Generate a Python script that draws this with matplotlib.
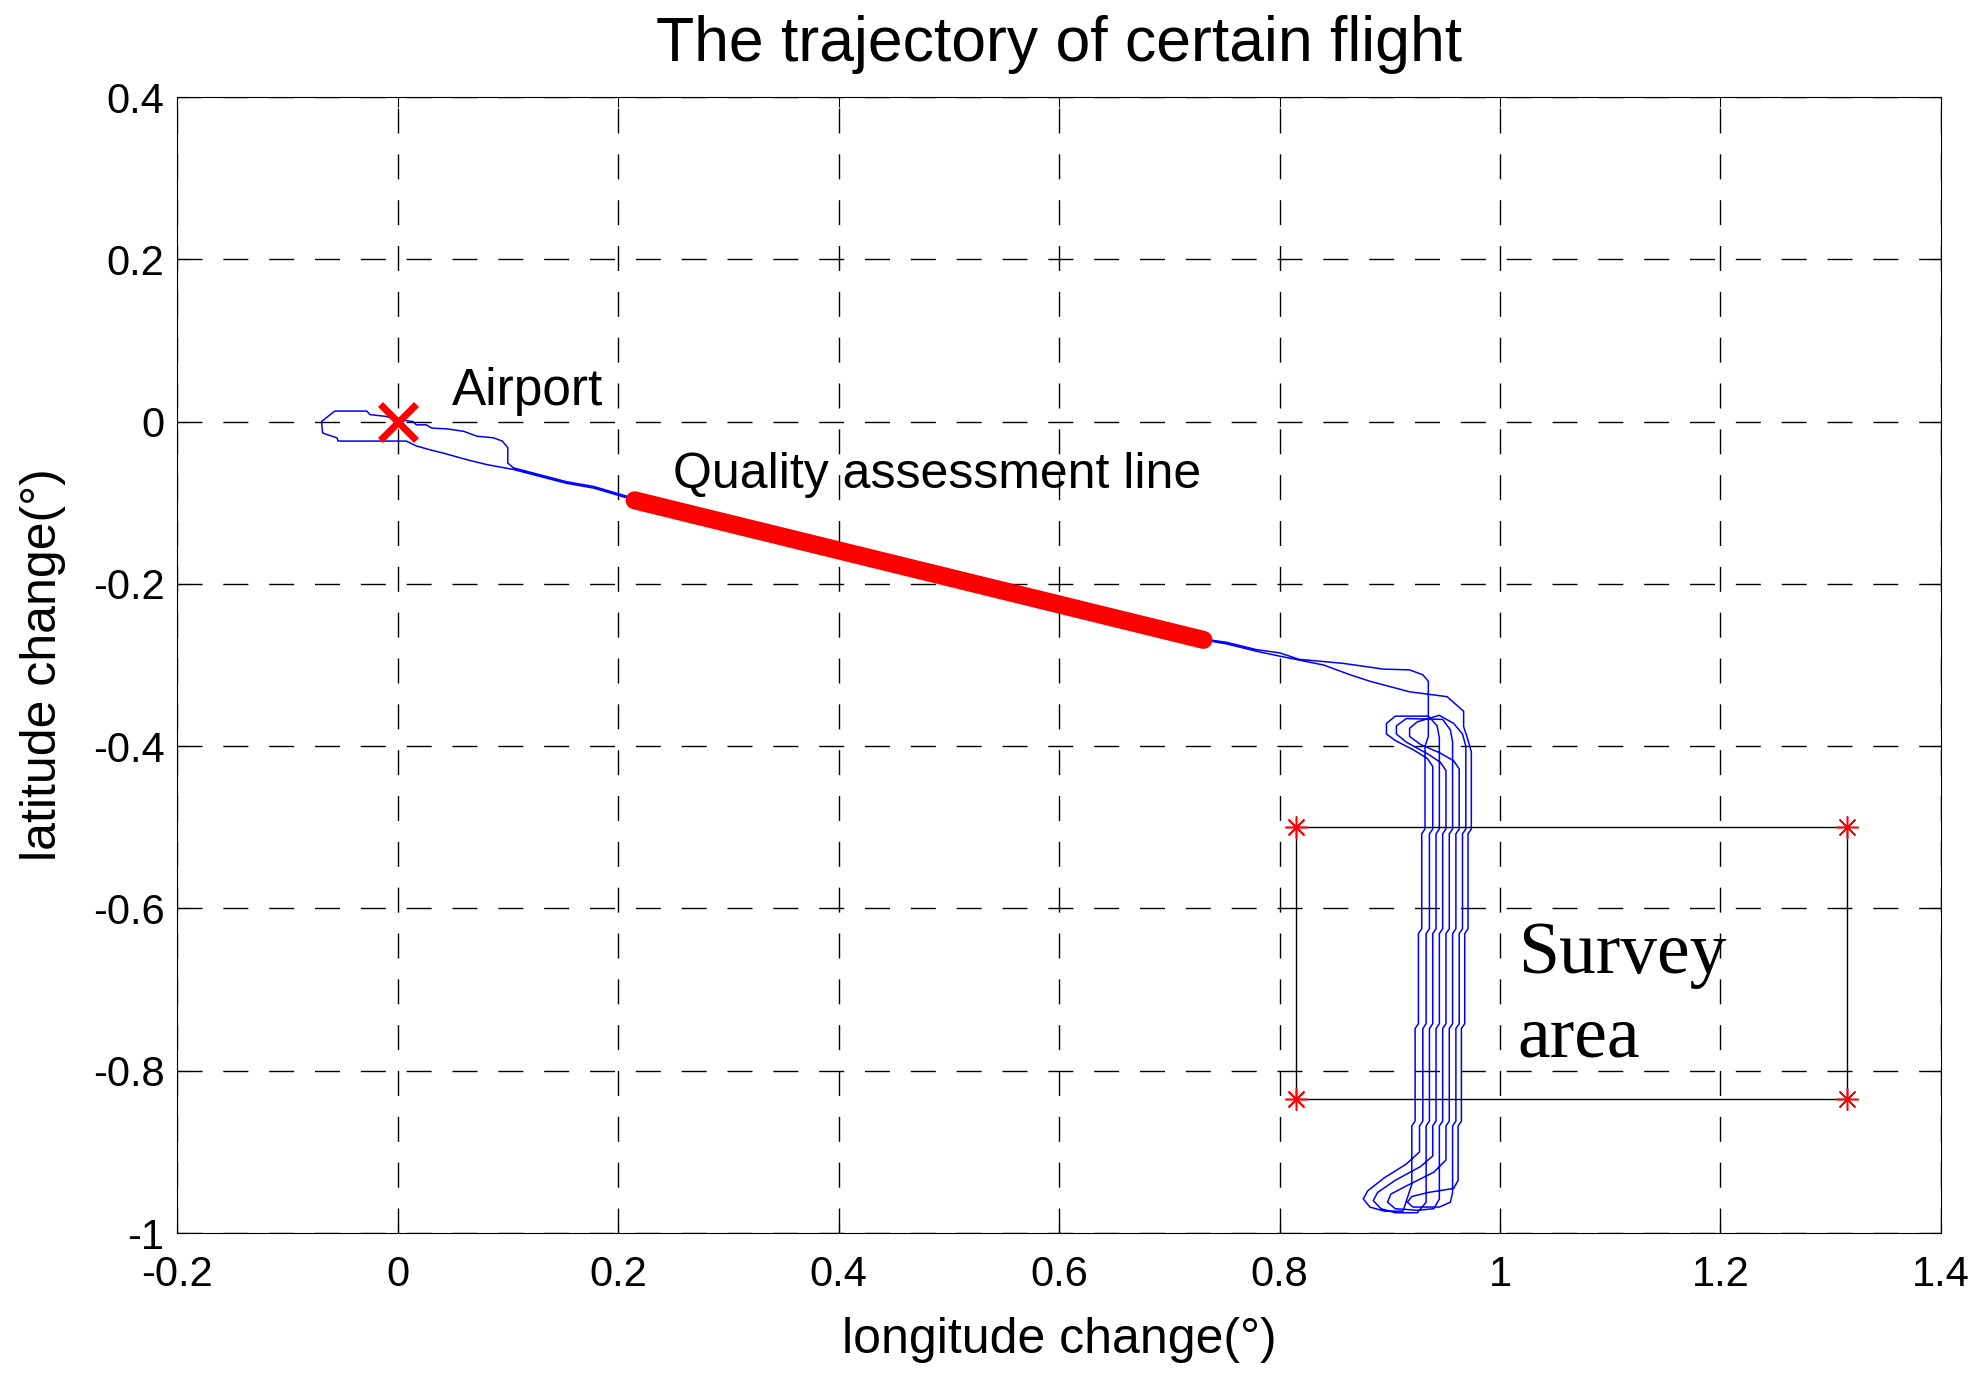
import matplotlib
matplotlib.use("Agg")
import matplotlib.pyplot as plt

plt.rcParams["font.family"] = ["Liberation Sans", "DejaVu Sans"]

# ground track around the airport (outbound: upper edge west, then lower edge east)
airport_out = [(0.0, 0.0025), (-0.011, 0.0065), (-0.025, 0.0086), (-0.028, 0.013),
               (-0.057, 0.013), (-0.069, 0.0), (-0.068, -0.014), (-0.064, -0.016),
               (-0.055, -0.020), (-0.054, -0.024), (0.008, -0.024), (0.017, -0.030),
               (0.030, -0.035), (0.042, -0.039), (0.055, -0.044), (0.066, -0.048),
               (0.081, -0.053), (0.093, -0.056), (0.105, -0.059)]
route_out = [(0.153, -0.076), (0.178, -0.082), (0.193, -0.088), (0.213, -0.096),
             (0.731, -0.269), (0.752, -0.274), (0.779, -0.283), (0.800, -0.289)]
entry = [(0.840, -0.300), (0.864, -0.312), (0.882, -0.320), (0.918, -0.333),
         (0.952, -0.339), (0.967, -0.357), (0.967, -0.376), (0.970, -0.388)]

# survey legs: longitude of each leg between the small jogs
jog_lat = [-0.505, -0.628, -0.745, -0.865]
leg_lon = {
    1: [0.932, 0.929, 0.926, 0.923, 0.920],
    2: [0.939, 0.936, 0.933, 0.930, 0.927],
    3: [0.945, 0.942, 0.939, 0.936, 0.933],
    4: [0.951, 0.948, 0.945, 0.942, 0.939],
    5: [0.957, 0.954, 0.951, 0.948, 0.945],
    6: [0.963, 0.960, 0.957, 0.954, 0.951],
    7: [0.969, 0.966, 0.963, 0.960, 0.957],
    8: [0.974, 0.971, 0.968, 0.965, 0.962],
}
leg_top = {1: -0.40, 2: -0.425, 3: -0.39, 4: -0.43, 5: -0.395, 6: -0.428, 7: -0.40, 8: -0.407}
leg_bot = {1: -0.94, 2: -0.90, 3: -0.962, 4: -0.905, 5: -0.958, 6: -0.91, 7: -0.95, 8: -0.935}

bottom_turns = {
    (8, 7): [(0.958, -0.945), (0.935, -0.950), (0.920, -0.955), (0.916, -0.962),
             (0.921, -0.968), (0.945, -0.968), (0.955, -0.962)],
    (6, 5): [(0.940, -0.925), (0.915, -0.942), (0.901, -0.952), (0.898, -0.962),
             (0.905, -0.970), (0.925, -0.972), (0.940, -0.970)],
    (4, 3): [(0.928, -0.918), (0.905, -0.935), (0.889, -0.950), (0.885, -0.960),
             (0.892, -0.970), (0.905, -0.975), (0.925, -0.975)],
    (2, 1): [(0.915, -0.915), (0.895, -0.932), (0.880, -0.948), (0.876, -0.958),
             (0.882, -0.968), (0.895, -0.973), (0.912, -0.973)],
}
top_turns = {
    (7, 6): [(0.966, -0.385), (0.958, -0.372), (0.945, -0.362), (0.925, -0.370),
             (0.918, -0.378), (0.918, -0.388), (0.928, -0.398), (0.945, -0.408),
             (0.958, -0.418)],
    (5, 4): [(0.955, -0.380), (0.948, -0.367), (0.915, -0.366), (0.906, -0.375),
             (0.906, -0.385), (0.915, -0.395), (0.935, -0.410), (0.946, -0.420)],
    (3, 2): [(0.943, -0.375), (0.935, -0.363), (0.905, -0.363), (0.897, -0.372),
             (0.897, -0.385), (0.905, -0.393), (0.922, -0.405), (0.934, -0.415)],
}
exit_line = [(0.935, -0.388), (0.935, -0.320), (0.930, -0.312), (0.918, -0.306),
             (0.894, -0.305), (0.858, -0.298), (0.818, -0.293), (0.800, -0.285)]
route_back = [(0.779, -0.281), (0.752, -0.272), (0.731, -0.268), (0.213, -0.094),
              (0.193, -0.086), (0.178, -0.080), (0.153, -0.074), (0.105, -0.057)]
airport_in = [(0.100, -0.051), (0.100, -0.032), (0.095, -0.024), (0.087, -0.020),
              (0.072, -0.018), (0.060, -0.012), (0.045, -0.009), (0.031, -0.008),
              (0.026, -0.004), (0.017, -0.004), (0.014, 0.0), (0.0, 0.0025)]

# quality assessment line (red) and survey rectangle
qa_lon = [0.215, 0.731]
qa_lat = [-0.097, -0.269]
rect_lon = [0.815, 1.315, 1.315, 0.815, 0.815]
rect_lat = [-0.500, -0.500, -0.835, -0.835, -0.500]


def leg(n, down):
    xs = leg_lon[n]
    pts = [(xs[0], leg_top[n])]
    for i, yj in enumerate(jog_lat):
        pts.append((xs[i], yj + 0.003))
        pts.append((xs[i + 1], yj - 0.003))
    pts.append((xs[-1], leg_bot[n]))
    return pts if down else pts[::-1]


path = airport_out + route_out + entry
path += leg(8, True) + bottom_turns[(8, 7)] + leg(7, False) + top_turns[(7, 6)]
path += leg(6, True) + bottom_turns[(6, 5)] + leg(5, False) + top_turns[(5, 4)]
path += leg(4, True) + bottom_turns[(4, 3)] + leg(3, False) + top_turns[(3, 2)]
path += leg(2, True) + bottom_turns[(2, 1)] + leg(1, False)
path += exit_line + route_back + airport_in
lon = [p[0] for p in path]
lat = [p[1] for p in path]

fig = plt.figure(figsize=(19.83, 13.8), dpi=100)
ax = fig.add_axes([0.0893, 0.1065, 0.8895, 0.8232])

ax.plot(lon, lat, color="#0000ff", lw=1.1, zorder=3)
ax.plot(qa_lon, qa_lat, color="red", lw=13, solid_capstyle="round", zorder=4)
ax.plot(rect_lon, rect_lat, color="k", lw=1.0, zorder=3)
ax.plot(rect_lon[:4], rect_lat[:4], linestyle="none", marker=(8, 2, 0),
        markersize=16, markeredgewidth=1.1, color="red", zorder=5)
ax.plot([0], [0], linestyle="none", marker="x", markersize=26,
        markeredgewidth=5, color="red", zorder=5)

ax.text(0.049, 0.021, "Airport", fontsize=37)
ax.text(0.250, -0.082, "Quality assessment line", fontsize=36)
ax.text(1.016, -0.680, "Survey", fontsize=53, family="Liberation Serif")
ax.text(1.016, -0.782, "area", fontsize=53, family="Liberation Serif")

ax.set_xlim(-0.2, 1.4)
ax.set_ylim(-1.0, 0.4)
xt = [-0.2, 0, 0.2, 0.4, 0.6, 0.8, 1.0, 1.2, 1.4]
yt = [-1.0, -0.8, -0.6, -0.4, -0.2, 0, 0.2, 0.4]
ax.set_xticks(xt)
ax.set_xticklabels(["-0.2", "0", "0.2", "0.4", "0.6", "0.8", "1", "1.2", "1.4"])
ax.set_yticks(yt)
ax.set_yticklabels(["-1", "-0.8", "-0.6", "-0.4", "-0.2", "0", "0.2", "0.4"])
ax.tick_params(direction="in", length=7, width=0.8, labelsize=30,
               top=True, right=True)
ax.tick_params(axis="x", pad=16)
ax.tick_params(axis="y", pad=9)
ax.grid(True, color="k", linestyle=(0, (18, 15)), linewidth=1.0)
ax.set_axisbelow(True)
for s in ax.spines.values():
    s.set_linewidth(0.8)

ax.set_title("The trajectory of certain flight", fontsize=45, pad=26)
ax.set_xlabel("longitude change(°)", fontsize=36)
ax.set_ylabel("latitude change(°)", fontsize=36)
ax.xaxis.set_label_coords(0.5, -0.074)
ax.yaxis.set_label_coords(-0.063, 0.5)

fig.savefig("out.png", dpi=100)
